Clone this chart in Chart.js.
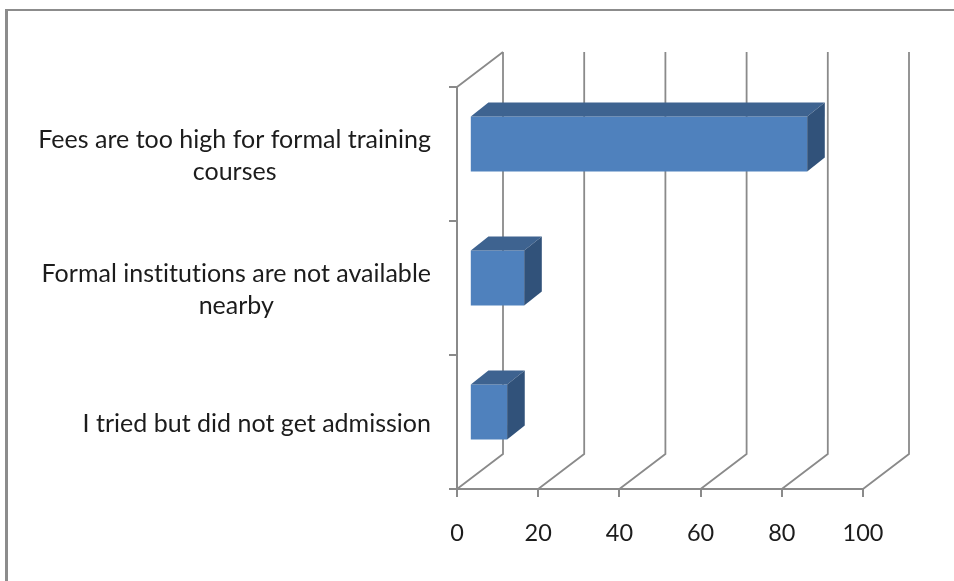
<!DOCTYPE html>
<html>
<head>
<meta charset="utf-8">
<title>Reasons for not joining formal training</title>
<script src="https://cdn.jsdelivr.net/npm/chart.js@4"></script>
<style>
  html, body { margin: 0; padding: 0; background: #fff; overflow: hidden; }
  #frame { position: absolute; left: 5px; top: 9px; right: 0; bottom: 0; border-left: 3px solid #8c8c8c; border-top: 2px solid #8c8c8c; }
  #chart { position: absolute; left: 0; top: 0; }
</style>
</head>
<body>
<div id="frame"></div>
<canvas id="chart" width="954" height="581"></canvas>
<script>
// values
const categories = [
  ['Fees are too high for formal training', 'courses'],
  ['Formal institutions are not available', 'nearby'],
  ['I tried but did not get admission'],
];
const values = [83.1, 13.4, 9.2];
const tickValues = [0, 20, 40, 60, 80, 100];

const WALL = { dx: 46, dy: -35 };
const BAR_SHIFT = { dx: 12.8, dy: -10 };
const BAR_DEPTH = { dx: 17.6, dy: -14 };
const LINE = '#8a8a8a';
const FONT = '25px Lato, Carlito, sans-serif';

function poly(ctx, pts, fill) {
  ctx.beginPath();
  pts.forEach((p, i) => i ? ctx.lineTo(p[0], p[1]) : ctx.moveTo(p[0], p[1]));
  ctx.closePath();
  ctx.fillStyle = fill;
  ctx.fill();
}

const box3d = {
  id: 'box3d',
  beforeDatasetsDraw(chart) {
    const { ctx, chartArea: a, scales: { x } } = chart;
    ctx.save();
    ctx.strokeStyle = LINE;
    ctx.lineWidth = 1.8;
    ctx.beginPath();
    // side wall edge and floor lines, back wall lines
    ctx.moveTo(a.left, a.top);
    ctx.lineTo(a.left + WALL.dx, a.top + WALL.dy);
    tickValues.forEach(v => {
      const px = x.getPixelForValue(v);
      ctx.moveTo(px, a.bottom);
      ctx.lineTo(px + WALL.dx, a.bottom + WALL.dy);
      ctx.lineTo(px + WALL.dx, a.top + WALL.dy);
    });
    ctx.stroke();
    ctx.restore();
    // bars stand a little way into the floor
    ctx.save();
    ctx.translate(BAR_SHIFT.dx, BAR_SHIFT.dy);
  },
  afterDatasetsDraw(chart) {
    const { ctx } = chart;
    const d = BAR_DEPTH;
    chart.getDatasetMeta(0).data.forEach(bar => {
      const { x, y, base, height } = bar.getProps(['x', 'y', 'base', 'height'], true);
      const top = y - height / 2, bottom = y + height / 2;
      poly(ctx, [[base, top], [base + d.dx, top + d.dy], [x + d.dx, top + d.dy], [x, top]], '#3e6390');
      poly(ctx, [[x, top], [x + d.dx, top + d.dy], [x + d.dx, bottom + d.dy], [x, bottom]], '#31527a');
    });
    ctx.restore();
  },
  afterDraw(chart) {
    const { ctx, chartArea: a, scales: { y } } = chart;
    ctx.save();
    ctx.font = FONT;
    ctx.letterSpacing = '0.01px'; // keeps Lato from joining "ti" into a ligature
    ctx.fillStyle = '#1c1c1c';
    ctx.textAlign = 'center';
    ctx.textBaseline = 'middle';
    const right = a.left - 26;
    categories.forEach((lines, i) => {
      const w = Math.max(...lines.map(l => ctx.measureText(l).width));
      const cy = y.getPixelForTick(i) + 2;
      lines.forEach((l, n) => {
        ctx.fillText(l, right - w / 2, cy + (n - (lines.length - 1) / 2) * 32);
      });
    });
    ctx.restore();
  }
};

new Chart(document.getElementById('chart'), {
  type: 'bar',
  data: {
    labels: categories,
    datasets: [{
      data: values,
      backgroundColor: '#4f81bd',
      barPercentage: 0.41,
      categoryPercentage: 1
    }]
  },
  options: {
    indexAxis: 'y',
    responsive: false,
    animation: false,
    layout: { padding: { left: 457, top: 87, right: 91, bottom: 32 } },
    plugins: { legend: { display: false }, tooltip: { enabled: false } },
    scales: {
      x: {
        min: 0, max: 100,
        afterBuildTicks: s => { s.ticks = tickValues.map(value => ({ value })); },
        afterFit: s => { s.height = 60; },
        border: { color: LINE, width: 2 },
        grid: { drawOnChartArea: false, color: LINE, lineWidth: 2, tickLength: 8 },
        ticks: { color: '#1c1c1c', font: { family: 'Lato, Carlito, sans-serif', size: 23.5 }, padding: 22, maxRotation: 0 }
      },
      y: {
        afterFit: s => { s.width = 0; },
        border: { color: LINE, width: 2 },
        grid: { drawOnChartArea: false, color: LINE, lineWidth: 2, tickLength: 8 },
        ticks: { display: false }
      }
    }
  },
  plugins: [box3d]
});
</script>
</body>
</html>
